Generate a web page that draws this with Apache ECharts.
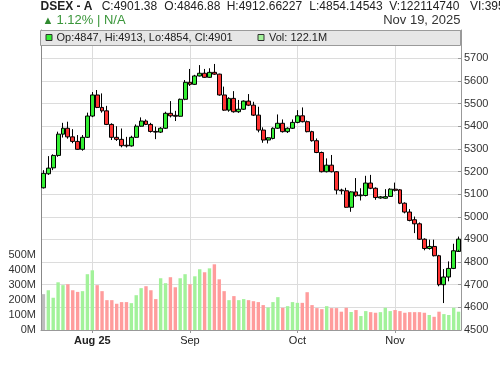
<!DOCTYPE html>
<html><head><meta charset="utf-8">
<script src="https://cdn.jsdelivr.net/npm/echarts@6/dist/echarts.min.js"></script>
<style>html,body{margin:0;padding:0;background:#fff}#c{width:500px;height:366px}</style>
</head><body><div id="c"></div>
<script>
// Trading days (DSE, Sun-Thu)
const dates = [
 '2025-07-20','2025-07-21','2025-07-22','2025-07-23','2025-07-24','2025-07-27','2025-07-28','2025-07-29','2025-07-30','2025-07-31',
 '2025-08-03','2025-08-04','2025-08-06','2025-08-07','2025-08-10','2025-08-11','2025-08-12','2025-08-13','2025-08-14',
 '2025-08-17','2025-08-18','2025-08-19','2025-08-20','2025-08-21','2025-08-24','2025-08-25','2025-08-26','2025-08-27','2025-08-28','2025-08-31',
 '2025-09-01','2025-09-02','2025-09-03','2025-09-04','2025-09-07','2025-09-08','2025-09-09','2025-09-10','2025-09-11',
 '2025-09-14','2025-09-15','2025-09-16','2025-09-17','2025-09-18','2025-09-21','2025-09-22','2025-09-23','2025-09-24','2025-09-25',
 '2025-09-28','2025-09-29','2025-09-30',
 '2025-10-05','2025-10-06','2025-10-07','2025-10-08','2025-10-09','2025-10-12','2025-10-13','2025-10-14','2025-10-15','2025-10-16',
 '2025-10-19','2025-10-20','2025-10-21','2025-10-22','2025-10-23','2025-10-26','2025-10-27','2025-10-28','2025-10-29','2025-10-30',
 '2025-11-02','2025-11-03','2025-11-04','2025-11-05','2025-11-06','2025-11-09','2025-11-10','2025-11-11','2025-11-12','2025-11-13',
 '2025-11-16','2025-11-17','2025-11-18','2025-11-19'
];
const open  = [5128,5190,5216,5271,5365,5391,5353,5333,5298,5351, 5445,5538,5483,5468,5408,5351,5342,5316,5313,5351,
               5400,5423,5408,5377,5374,5391,5457,5448,5444,5519, 5594,5585,5622,5634,5616,5638,5630,5538,5471,5523,
               5464,5475,5511,5493,5449,5383,5339,5346,5391,5413, 5376,5391,5417,5446,5420,5376,5336,5284,5199,5228,
               5199,5118,5115,5042,5110,5093,5094,5149,5126,5083, 5082,5090,5122,5119,5060,5021,4987,4969,4901,4860,
               4869,4828,4700,4734,4772,4846.88];
const high  = [5206,5268,5276,5376,5415,5420,5387,5361,5361,5460, 5551,5560,5545,5490,5413,5400,5390,5353,5358,5408,
               5439,5430,5415,5398,5396,5464,5511,5468,5522,5604, 5653,5627,5670,5653,5656,5675,5632,5575,5528,5555,
               5516,5514,5542,5508,5486,5395,5352,5395,5452,5430, 5395,5430,5471,5483,5425,5380,5346,5288,5258,5273,
               5202,5124,5128,5113,5171,5126,5181,5185,5130,5092, 5122,5126,5151,5122,5064,5034,5001,4975,4905,4899,
               4899,4832,4769,4803,4881,4912.66227];
const low   = [5125,5185,5206,5265,5350,5345,5325,5296,5292,5348, 5440,5480,5460,5405,5339,5335,5307,5306,5310,5348,
               5398,5405,5372,5343,5370,5388,5439,5423,5442,5515, 5578,5582,5620,5614,5614,5627,5535,5468,5464,5460,
               5459,5472,5489,5445,5373,5327,5324,5342,5388,5372, 5370,5388,5413,5417,5373,5332,5281,5196,5196,5196,
               5099,5099,5040,5022,5088,5072,5090,5122,5075,5080, 5080,5088,5112,5056,5015,4980,4928,4898,4852,4855,
               4825,4693,4619,4715,4769,4854.14543];
const close = [5192,5215,5271,5365,5391,5353,5333,5298,5351,5445, 5538,5483,5468,5408,5351,5342,5314,5313,5351,5400,
               5423,5408,5377,5374,5391,5457,5446,5444,5519,5594, 5585,5622,5634,5616,5638,5630,5538,5471,5523,5464,
               5475,5511,5493,5449,5383,5339,5349,5391,5413,5376, 5391,5417,5446,5420,5376,5336,5284,5199,5228,5199,
               5118,5115,5042,5110,5093,5096,5149,5126,5085,5088, 5089,5122,5117,5060,5021,4984,4969,4901,4860,4869,
               4828,4700,4734,4772,4850,4901.38];
// Volume in millions
const volumeM = [239,265,215,318,299,305,265,254,259,372, 398,299,259,199,199,175,186,186,179,232,
                 279,292,265,206,345,312,352,285,345,372, 305,358,405,385,411,438,338,259,199,226,
                 199,206,199,192,186,166,150,186,219,148, 159,186,181,181,252,166,146,139,159,146,
                 146,122,148,120,133,93,126,119,115,119, 148,126,133,126,115,119,119,119,115,100,
                 88,122,106,100,148,122.11474];
// Month tick labels
const monthTickIndex = [10,30,52,72];
const monthTickText = ['Aug 25','Sep','Oct','Nov'];
// Header quote
const quoteName = 'DSEX - A';
const quoteFields = ['C:4901.38','O:4846.88','H:4912.66227','L:4854.14543','V:122114740','VI:395'];
const quoteChange = '1.12% | N/A';
const quoteDate = 'Nov 19, 2025';

const FONT = 'Liberation Sans, Arial, sans-serif';
const n = dates.length;
const candleData = dates.map((d,i)=>[open[i],close[i],low[i],high[i]]);
const volData = volumeM.map((v,i)=>({
  value: v*1e6,
  itemStyle:{color: i===0 ? '#bdbdbd' : (close[i]>=open[i] ? '#a2f29a' : '#ff9c9c')}
}));
const isTick = (idx)=>monthTickIndex.indexOf(idx)>=0;
const last = n-1;
const legendText = 'Op:'+Math.round(open[last])+', Hi:'+Math.round(high[last])+', Lo:'+Math.round(low[last])+', Cl:'+Math.round(close[last]);
const volText = 'Vol: '+volumeM[last].toFixed(1)+'M';

const chart = echarts.init(document.getElementById('c'), null, {renderer:'canvas'});
const fieldX = [101.7,164.3,226.7,309.3,389.3,470];
const graphics = [
  {type:'text', left:40.5, top:1, style:{text:quoteName, font:'bold 12px '+FONT, fill:'#222'}},
  ...quoteFields.map((t,i)=>({type:'text', left:fieldX[i], top:1, style:{text:t, font:'12px '+FONT, fill:'#222'}})),
  {type:'text', left:42.5, top:15.5, style:{text:'▲', font:'11px '+FONT, fill:'#2f8a2f'}},
  {type:'text', left:56.5, top:14, style:{text:quoteChange, font:'13px '+FONT, fill:'#3a963a'}},
  {type:'text', right:39.5, top:14, style:{text:quoteDate, font:'13px '+FONT, fill:'#333'}},
  {type:'rect', shape:{x:40.5,y:30.5,width:420,height:15}, style:{fill:'#e6e6e6', stroke:'#9a9a9a', lineWidth:1}, z:10},
  {type:'rect', shape:{x:46,y:34.5,width:6,height:6}, style:{fill:'#33ee33', stroke:'#333', lineWidth:1}, z:11},
  {type:'text', left:56.5, top:32, style:{text:legendText, font:'11px '+FONT, fill:'#222'}, z:11},
  {type:'rect', shape:{x:258,y:34.5,width:6,height:6}, style:{fill:'#a2f29a', stroke:'#333', lineWidth:1}, z:11},
  {type:'text', left:269, top:32, style:{text:volText, font:'11px '+FONT, fill:'#222'}, z:11}
];

chart.setOption({
  animation:false,
  backgroundColor:'#fff',
  textStyle:{fontFamily:FONT},
  grid:{left:41, right:39, top:30, bottom:36},
  xAxis:{
    type:'category', data:dates, boundaryGap:true,
    axisLine:{show:true, lineStyle:{color:'#999', width:1}},
    axisTick:{show:true, alignWithLabel:true, length:3, interval:(i)=>isTick(i), lineStyle:{color:'#999'}},
    axisLabel:{interval:(i)=>isTick(i), fontSize:11, color:'#222', margin:5,
      formatter:(v,i)=>{const k=monthTickIndex.indexOf(i); if(k<0) return ''; return k===0?'{b|'+monthTickText[k]+'}':monthTickText[k];},
      rich:{b:{fontWeight:'bold', fontSize:11, color:'#222'}}},
    splitLine:{show:true, alignWithLabel:true, interval:(i)=>isTick(i), lineStyle:{color:'#dcdcdc', width:1}}
  },
  yAxis:[
    {type:'value', position:'right', min:4500, max:5825, interval:100, scale:true,
      axisLine:{show:true, lineStyle:{color:'#999'}},
      axisTick:{show:true, inside:true, length:3, lineStyle:{color:'#999'}},
      axisLabel:{fontSize:11, color:'#333', margin:3, formatter:(v)=> v>5700 ? '' : String(v)},
      splitLine:{show:true, lineStyle:{color:'#dcdcdc', width:1}}},
    {type:'value', position:'left', min:0, max:2000e6, interval:100e6,
      axisLine:{show:true, lineStyle:{color:'#888'}},
      axisTick:{show:false},
      axisLabel:{fontSize:11, color:'#333', margin:5, formatter:(v)=> v<=500e6 ? (Math.round(v/1e6))+'M' : ''},
      splitLine:{show:false}}
  ],
  series:[
    {type:'bar', yAxisIndex:1, data:volData, barWidth:3.4, z:2, silent:true},
    {type:'candlestick', yAxisIndex:0, data:candleData, barWidth:4.4, z:3, silent:true,
      itemStyle:{color:'#33ee33', color0:'#ff3333', borderColor:'#000', borderColor0:'#000', borderColorDoji:'#000', borderWidth:1}}
  ],
  graphic:graphics
});
</script></body></html>
